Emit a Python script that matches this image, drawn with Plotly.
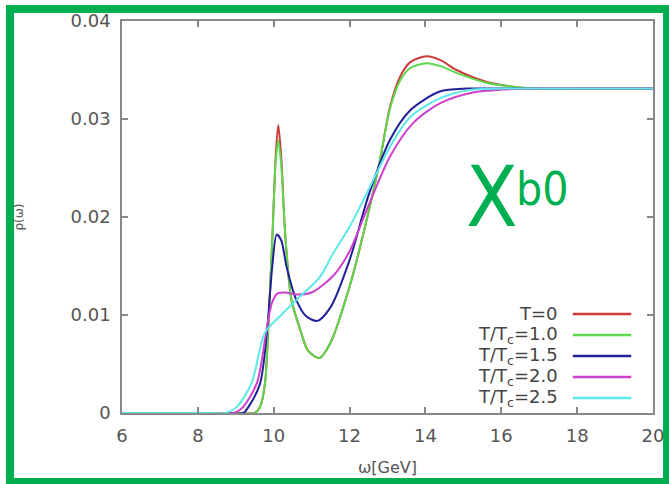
import plotly.graph_objects as go

# spectral functions rho(omega) of chi_b0
omega_t0 = [6, 7, 8, 9, 9.5, 9.64, 9.77, 9.85, 9.97, 10.05, 10.12, 10.2, 10.3, 10.47, 10.7,
            10.9, 11.2, 11.5, 12.0, 12.5, 12.8, 13.07, 13.33, 13.6, 14.03, 14.4, 14.82, 15.6,
            16.3, 17, 18, 19, 20]
rho_t0 = [0, 0, 0, 0, 0, 0.0006, 0.003, 0.0082, 0.0184, 0.026, 0.0294, 0.026, 0.0184, 0.0115,
          0.0085, 0.0064, 0.0056, 0.0072, 0.0129, 0.0205, 0.0258, 0.0313, 0.0343, 0.0358,
          0.0364, 0.0360, 0.0350, 0.0338, 0.0333, 0.0331, 0.0331, 0.0331, 0.0331]
rho_10 = [0, 0, 0, 0, 0, 0.0006, 0.003, 0.0082, 0.0184, 0.0255, 0.0278, 0.0252, 0.0184,
          0.0115, 0.0085, 0.0064, 0.0056, 0.0072, 0.0129, 0.0205, 0.0258, 0.0311, 0.0339,
          0.0352, 0.0357, 0.0354, 0.0347, 0.0337, 0.0333, 0.0331, 0.0331, 0.0331, 0.0331]

omega_15 = [6, 7, 8, 8.8, 9.2, 9.33, 9.64, 9.82, 9.96, 10.08, 10.2, 10.34, 10.6, 10.85, 11.15,
            11.5, 12.0, 12.5, 13.07, 13.6, 14.38, 15.1, 16, 17, 18, 19, 20]
rho_15 = [0, 0, 0, 0, 0, 0.0006, 0.003, 0.0082, 0.0149, 0.0182, 0.0176, 0.0149, 0.0115,
          0.0099, 0.0094, 0.0108, 0.0156, 0.0222, 0.0279, 0.0309, 0.0328, 0.0331, 0.0331,
          0.0331, 0.0331, 0.0331, 0.0331]

omega_20 = [6, 7, 8, 8.6, 8.95, 9.19, 9.56, 9.8, 9.95, 10.1, 10.3, 10.6, 11.0, 11.57, 12.0,
            12.45, 13.07, 13.68, 14.38, 15.25, 16, 17, 18, 19, 20]
rho_20 = [0, 0, 0, 0, 0, 0.0006, 0.0031, 0.0082, 0.0112, 0.0122, 0.0123, 0.0121, 0.0123,
          0.014, 0.0165, 0.0207, 0.0262, 0.0296, 0.0316, 0.0327, 0.033, 0.0331, 0.0331,
          0.0331, 0.0331]

omega_25 = [6, 7, 7.8, 8.4, 8.7, 9.02, 9.42, 9.77, 10.2, 10.7, 11.22, 11.57, 12.0, 12.45,
            13.07, 13.6, 14.38, 15.25, 16, 17, 18, 19, 20]
rho_25 = [0, 0, 0, 0, 0, 0.0006, 0.0031, 0.0082, 0.01, 0.0119, 0.0139, 0.0163, 0.019,
          0.0224, 0.0272, 0.0302, 0.0321, 0.033, 0.0331, 0.0331, 0.0331, 0.0331, 0.0331]

labels = ["T=0", "T/T<sub>c</sub>=1.0", "T/T<sub>c</sub>=1.5", "T/T<sub>c</sub>=2.0",
          "T/T<sub>c</sub>=2.5"]
colors = ["#cc3a3a", "#5cd84a", "#20209a", "#cc40cc", "#5ce8e8"]
series = [(omega_t0, rho_t0), (omega_t0, rho_10), (omega_15, rho_15),
          (omega_20, rho_20), (omega_25, rho_25)]

TICK_FONT = {"family": "DejaVu Sans", "size": 18, "color": "#555555"}
GREEN = "#00b050"

fig = go.Figure()
for (x, y), name, color in zip(series, labels, colors):
    fig.add_scatter(x=x, y=y, mode="lines", name=name, cliponaxis=False,
                    line={"color": color, "width": 2, "shape": "spline", "smoothing": 0.8})

# legend drawn by hand: text on the left, sample line on the right
for i, (name, color) in enumerate(zip(labels, colors)):
    ypos = 0.2526 - i * 0.0536
    fig.add_annotation(x=0.825, y=ypos, xref="paper", yref="paper", text=name,
                       showarrow=False, xanchor="right", yanchor="middle",
                       font={"family": "DejaVu Sans", "size": 18, "color": "#444444"})
    fig.add_shape(type="line", xref="paper", yref="paper", x0=0.849, x1=0.959,
                  y0=ypos, y1=ypos, line={"color": color, "width": 2.5})

# chi_b0 label
NARROW = "Liberation Sans Narrow, DejaVu Sans Condensed, Liberation Sans"
fig.add_annotation(x=0.697, y=0.55, xref="paper", yref="paper", text="X", showarrow=False,
                   xanchor="center", yanchor="middle",
                   font={"family": NARROW, "size": 84, "color": GREEN})
fig.add_annotation(x=0.739, y=0.572, xref="paper", yref="paper", text="b0", showarrow=False,
                   xanchor="left", yanchor="middle",
                   font={"family": NARROW, "size": 46, "color": GREEN})

# green frame round the whole picture
fig.add_shape(type="rect", xref="paper", yref="paper", x0=-0.2109, x1=1.0264,
              y0=-0.176, y1=1.0306, line={"color": GREEN, "width": 8})

axis_common = dict(showgrid=False, zeroline=False, showline=True, linecolor="#888888",
                   linewidth=1.5, mirror="ticks", ticks="inside", ticklen=6,
                   tickcolor="#888888", tickwidth=1.5, tickfont=TICK_FONT, automargin=False,
                   ticklabelstandoff=6)
fig.update_xaxes(range=[6, 20], dtick=2, title={"text": "ω[GeV]", "standoff": 16,
                 "font": {"family": "DejaVu Sans", "size": 16, "color": "#555555"}},
                 **axis_common)
fig.update_yaxes(range=[0, 0.04], dtick=0.01,
                 title={"text": "ρ(ω)", "standoff": 44,
                        "font": {"family": "DejaVu Sans", "size": 12, "color": "#555555"}},
                 **axis_common)
fig.update_layout(width=669, height=484, showlegend=False,
                  margin={"l": 122, "r": 16, "t": 21, "b": 71},
                  plot_bgcolor="white", paper_bgcolor="white")
fig.write_html("out.html", config={"displayModeBar": False},
               post_script="document.body.style.margin = '0px';")
